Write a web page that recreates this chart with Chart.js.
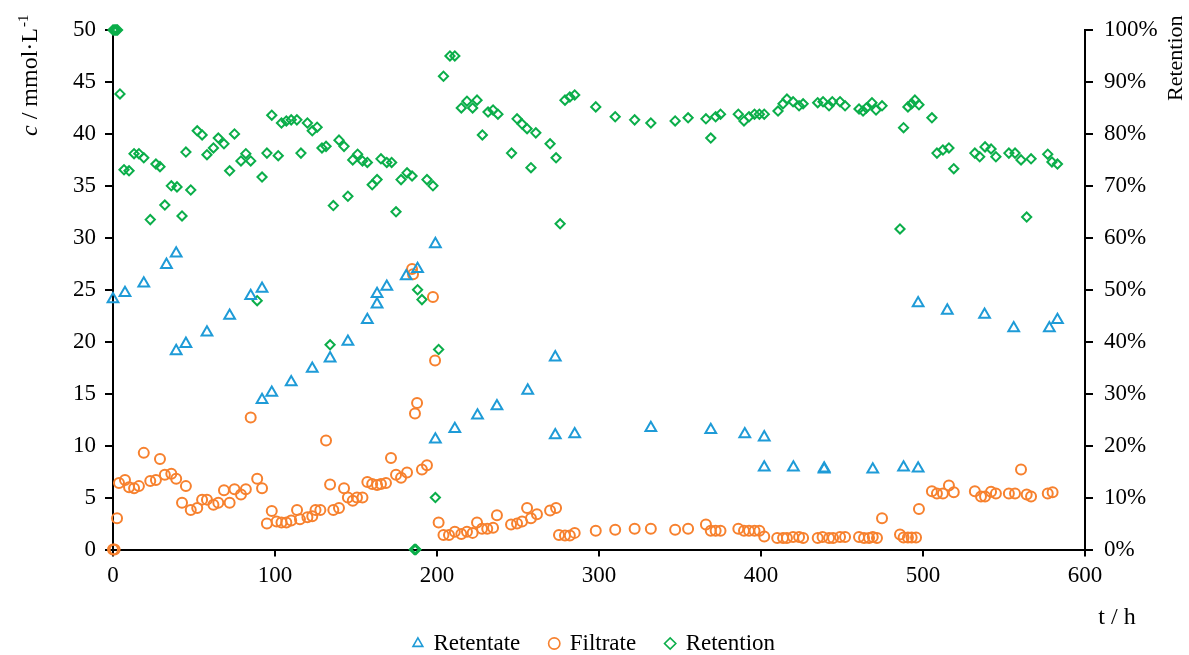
<!DOCTYPE html>
<html>
<head>
<meta charset="utf-8">
<script src="https://cdn.jsdelivr.net/npm/chart.js@4.4.1/dist/chart.umd.min.js"></script>
<style>
html,body{margin:0;padding:0;background:#fff;}
#wrap{width:1189px;height:655px;position:relative;}
</style>
</head>
<body>
<div id="wrap"><canvas id="c" width="1189" height="655"></canvas></div>
<script>
// ---- data ----
const retentateT = [0, 7.4, 19, 33, 39, 39, 45, 58, 72, 85, 92, 92, 98, 110, 123, 134, 145, 157, 163, 163, 169, 181, 188, 199, 199, 211, 225, 237, 256, 273, 273, 285, 332, 369, 390, 402, 402, 420, 439, 439, 469, 488, 497, 497, 515, 538, 556, 578, 583];
const retentateC = [24.1, 24.7, 25.6, 27.4, 28.5, 19.1, 19.8, 20.9, 22.5, 24.4, 25.1, 14.4, 15.1, 16.1, 17.4, 18.4, 20.0, 22.1, 23.6, 24.6, 25.3, 26.3, 27.0, 29.4, 10.6, 11.6, 12.9, 13.8, 15.3, 18.5, 11.0, 11.1, 11.7, 11.5, 11.1, 10.8, 7.9, 7.9, 7.8, 7.7, 7.7, 7.9, 7.8, 23.7, 23.0, 22.6, 21.3, 21.3, 22.1];

const filtrateT = [0, 1, 2.5, 3.7, 7.4, 9.9, 13, 16, 19, 23, 26.5, 29, 32, 36, 39, 42.6, 45, 48, 52, 55, 58, 62, 65, 68.5, 72, 75, 79, 82, 85, 89, 92, 95, 98, 101, 104, 107, 110, 113.6, 115.4, 120, 123, 125, 128, 131.5, 134, 136, 139.5, 142.6, 145, 148, 150.6, 154, 157, 160, 163, 165.4, 168.5, 171.6, 174.7, 177.8, 181.5, 184.6, 185.2, 186.4, 187.7, 190.7, 193.8, 197.5, 198.8, 201, 204, 207.4, 211, 215, 218.5, 222, 224.7, 227.8, 231, 234.6, 237, 245.7, 249.4, 252.5, 255.6, 258, 261.7, 269.8, 273.5, 275.3, 279, 282, 285, 298, 310, 322, 332, 347, 355, 366, 369, 372, 375, 386, 389.5, 392.6, 396, 399, 402, 410, 413.6, 416, 419.8, 423.5, 426, 435, 438, 442, 444.5, 448.8, 451.9, 460.5, 463.6, 466.7, 469, 471.6, 474.7, 485.8, 488, 490.7, 493, 495.7, 497.5, 505.5, 508.6, 512.3, 516, 519, 532, 535.8, 538.3, 542, 545, 553, 556.8, 560.5, 564, 566.7, 577, 580];
const filtrateC = [0, 0, 3.0, 6.4, 6.7, 6.0, 5.9, 6.1, 9.3, 6.6, 6.7, 8.7, 7.2, 7.3, 6.8, 4.5, 6.1, 3.8, 4.0, 4.8, 4.8, 4.3, 4.5, 5.7, 4.5, 5.8, 5.3, 5.8, 12.7, 6.8, 5.9, 2.5, 3.7, 2.7, 2.6, 2.6, 2.8, 3.8, 2.9, 3.1, 3.2, 3.8, 3.8, 10.5, 6.25, 3.8, 4.0, 5.9, 5.0, 4.7, 5.0, 5.0, 6.5, 6.3, 6.2, 6.3, 6.4, 8.8, 7.2, 6.9, 7.4, 27.0, 26.5, 13.1, 14.1, 7.7, 8.1, 24.3, 18.2, 2.6, 1.4, 1.4, 1.7, 1.5, 1.7, 1.6, 2.6, 2.0, 2.0, 2.1, 3.3, 2.4, 2.5, 2.7, 4.0, 3.0, 3.4, 3.75, 4.0, 1.4, 1.35, 1.35, 1.6, 1.8, 1.9, 2.0, 2.0, 1.9, 2.0, 2.4, 1.8, 1.8, 1.8, 2.0, 1.8, 1.8, 1.8, 1.8, 1.25, 1.1, 1.1, 1.1, 1.2, 1.2, 1.1, 1.1, 1.2, 1.1, 1.1, 1.2, 1.2, 1.2, 1.1, 1.1, 1.2, 1.1, 3.0, 1.45, 1.15, 1.15, 1.15, 1.15, 3.9, 5.6, 5.4, 5.4, 6.15, 5.5, 5.6, 5.1, 5.1, 5.55, 5.4, 5.4, 5.4, 7.7, 5.3, 5.1, 5.4, 5.5];

const retentionT = [0, 0.7, 1.4, 2.1, 2.8, 4.3, 6.8, 9.9, 13, 16, 19, 23, 26.5, 29, 32, 36, 39.5, 42.6, 45, 48, 52, 55, 58, 62, 65, 68.5, 72, 75, 79, 82, 85, 89, 92, 95, 98, 102, 104, 107, 110, 113.5, 116, 120, 123, 126, 129, 131.5, 134, 136, 139.5, 142.6, 145, 148, 151, 154, 157, 160, 163, 165.4, 169, 172, 174.7, 177.8, 181.5, 184.6, 186, 186.5, 187, 188, 190.7, 193.8, 197.5, 199, 201, 204, 208, 211, 215, 218.5, 222, 224.7, 228, 231.5, 234.6, 237.6, 246, 249.4, 252.5, 255.6, 258, 261, 269.8, 273.5, 276, 279, 282, 285, 298, 310, 322, 332, 347, 355, 366, 369, 372, 375, 386, 389.5, 392.6, 396, 399, 402, 410.5, 413.6, 416, 419.8, 423.5, 426, 435, 438.3, 442, 444, 448.8, 451.9, 460.5, 463, 465, 468.5, 471, 474.7, 485.8, 488, 490.7, 493, 495, 497.5, 505.5, 508.6, 512.3, 516, 519, 532, 535, 538.3, 542, 545, 553, 556.8, 560.5, 564, 566.7, 577, 579.6, 583];
const retentionPct = [100, 100, 100, 100, 100, 87.7, 73.1, 72.9, 76.2, 76.2, 75.4, 63.5, 74.2, 73.7, 66.3, 70.0, 69.8, 64.2, 76.5, 69.2, 80.6, 79.8, 76.0, 77.3, 79.2, 78.1, 72.9, 80.0, 74.8, 76.2, 74.8, 47.9, 71.7, 76.3, 83.6, 75.8, 82.1, 82.5, 82.7, 82.7, 76.3, 82.1, 80.6, 81.3, 77.3, 77.6, 39.4, 66.2, 78.8, 77.6, 68.0, 75.0, 76.1, 74.8, 74.5, 70.2, 71.2, 75.2, 74.5, 74.5, 65.0, 71.2, 72.5, 71.9, 0, 0, 0, 50.0, 48.1, 71.2, 70.0, 10.0, 38.5, 91.1, 95.0, 95.0, 85.0, 86.3, 85.0, 86.5, 79.8, 84.2, 84.6, 83.8, 76.3, 82.9, 81.9, 81.0, 73.5, 80.2, 78.1, 75.4, 62.7, 86.5, 87.1, 87.5, 85.2, 83.3, 82.7, 82.1, 82.5, 83.1, 82.9, 79.2, 83.3, 83.8, 83.8, 82.5, 83.3, 83.8, 83.8, 83.8, 84.4, 85.8, 86.7, 86.2, 85.4, 85.8, 86.0, 86.2, 85.4, 86.2, 86.2, 85.4, 84.8, 84.4, 85.0, 86.0, 84.6, 85.4, 61.7, 81.2, 85.2, 85.8, 86.5, 85.6, 83.1, 76.3, 76.9, 77.3, 73.3, 76.3, 75.6, 77.5, 77.1, 75.6, 76.3, 76.3, 75.0, 64.0, 75.2, 76.1, 74.6, 74.2];

const seriesNames = ['Retentate', 'Filtrate', 'Retention'];
const xTickMax = 600, yLeftMax = 50, yRightMax = 100;

// ---- build ----
const pts = (xs, ys) => xs.map((x, i) => ({x: x, y: ys[i]}));
const FONT = "'Liberation Serif', 'Times New Roman', serif";
const BLUE = '#1E9BD7', ORANGE = '#F7812E', GREEN = '#0BAE4A';

const titlesPlugin = {
  id: 'titles',
  afterDraw(chart) {
    const ctx = chart.ctx;
    ctx.save();
    ctx.fillStyle = '#000';
    ctx.translate(31, 136);
    ctx.rotate(-Math.PI / 2);
    ctx.textBaseline = 'middle';
    ctx.textAlign = 'left';
    let x = 0;
    ctx.font = 'italic 24px ' + FONT;
    ctx.fillText('c', x, 0); x += ctx.measureText('c').width;
    ctx.font = '24px ' + FONT;
    const mid = ' / mmol\u00B7L';
    ctx.fillText(mid, x, 0); x += ctx.measureText(mid).width;
    ctx.font = '15px ' + FONT;
    ctx.fillText('-1', x + 1, -7);
    ctx.restore();

    ctx.save();
    ctx.fillStyle = '#000';
    ctx.translate(1176, 101);
    ctx.rotate(-Math.PI / 2);
    ctx.textBaseline = 'middle';
    ctx.textAlign = 'left';
    ctx.font = '22px ' + FONT;
    ctx.fillText('Retention', 0, 0);
    ctx.restore();

    ctx.save();
    ctx.fillStyle = '#000';
    ctx.font = '24px ' + FONT;
    ctx.textBaseline = 'middle';
    ctx.textAlign = 'center';
    ctx.fillText('t / h', 1117, 618);
    ctx.restore();
  }
};

const tickFont = {family: FONT, size: 23};

new Chart(document.getElementById('c'), {
  type: 'scatter',
  data: {
    datasets: [
      {label: seriesNames[0], data: pts(retentateT, retentateC), yAxisID: 'y', clip: false,
       pointStyle: 'triangle', radius: 6.2, borderColor: BLUE, backgroundColor: 'rgba(0,0,0,0)', borderWidth: 2, pointHoverRadius: 6.2},
      {label: seriesNames[1], data: pts(filtrateT, filtrateC), yAxisID: 'y', clip: false,
       pointStyle: 'circle', radius: 5, borderColor: ORANGE, backgroundColor: 'rgba(0,0,0,0)', borderWidth: 2, pointHoverRadius: 5},
      {label: seriesNames[2], data: pts(retentionT, retentionPct), yAxisID: 'y1', clip: false,
       pointStyle: 'rectRot', radius: 4.6, borderColor: GREEN, backgroundColor: 'rgba(0,0,0,0)', borderWidth: 2, pointHoverRadius: 4.6}
    ]
  },
  options: {
    responsive: false,
    animation: false,
    events: [],
    layout: {padding: {left: 0, right: 0, top: 30, bottom: -10}},
    plugins: {
      legend: {
        display: true, position: 'bottom',
        labels: {
          usePointStyle: true, boxWidth: 8, boxHeight: 8, padding: 30,
          color: '#000', font: {family: FONT, size: 23},
          generateLabels(chart) {
            return chart.data.datasets.map((d, i) => ({
              text: d.label, pointStyle: d.pointStyle, strokeStyle: d.borderColor,
              fillStyle: 'rgba(0,0,0,0)', lineWidth: 1.6, datasetIndex: i, fontColor: '#000'
            }));
          }
        }
      },
      tooltip: {enabled: false}
    },
    scales: {
      x: {
        type: 'linear', min: 0, max: xTickMax,
        ticks: {stepSize: 100, color: '#000', font: tickFont, padding: 6, maxRotation: 0},
        grid: {drawOnChartArea: false, drawTicks: true, tickLength: 7, color: '#000', lineWidth: 2},
        border: {color: '#000', width: 2},
        afterFit(s) { s.height = 52.5; }
      },
      y: {
        type: 'linear', position: 'left', min: 0, max: yLeftMax,
        ticks: {stepSize: 5, color: '#000', font: tickFont, padding: 9},
        grid: {drawOnChartArea: false, drawTicks: true, tickLength: 8, color: '#000', lineWidth: 2},
        border: {color: '#000', width: 2},
        afterFit(s) { s.width = 113; }
      },
      y1: {
        type: 'linear', position: 'right', min: 0, max: yRightMax,
        ticks: {stepSize: 10, color: '#000', font: tickFont, padding: 11, callback: v => v + '%'},
        grid: {drawOnChartArea: false, drawTicks: true, tickLength: 8, color: '#000', lineWidth: 2},
        border: {color: '#000', width: 2},
        afterFit(s) { s.width = 104; }
      }
    }
  },
  plugins: [titlesPlugin]
});
</script>
</body>
</html>
